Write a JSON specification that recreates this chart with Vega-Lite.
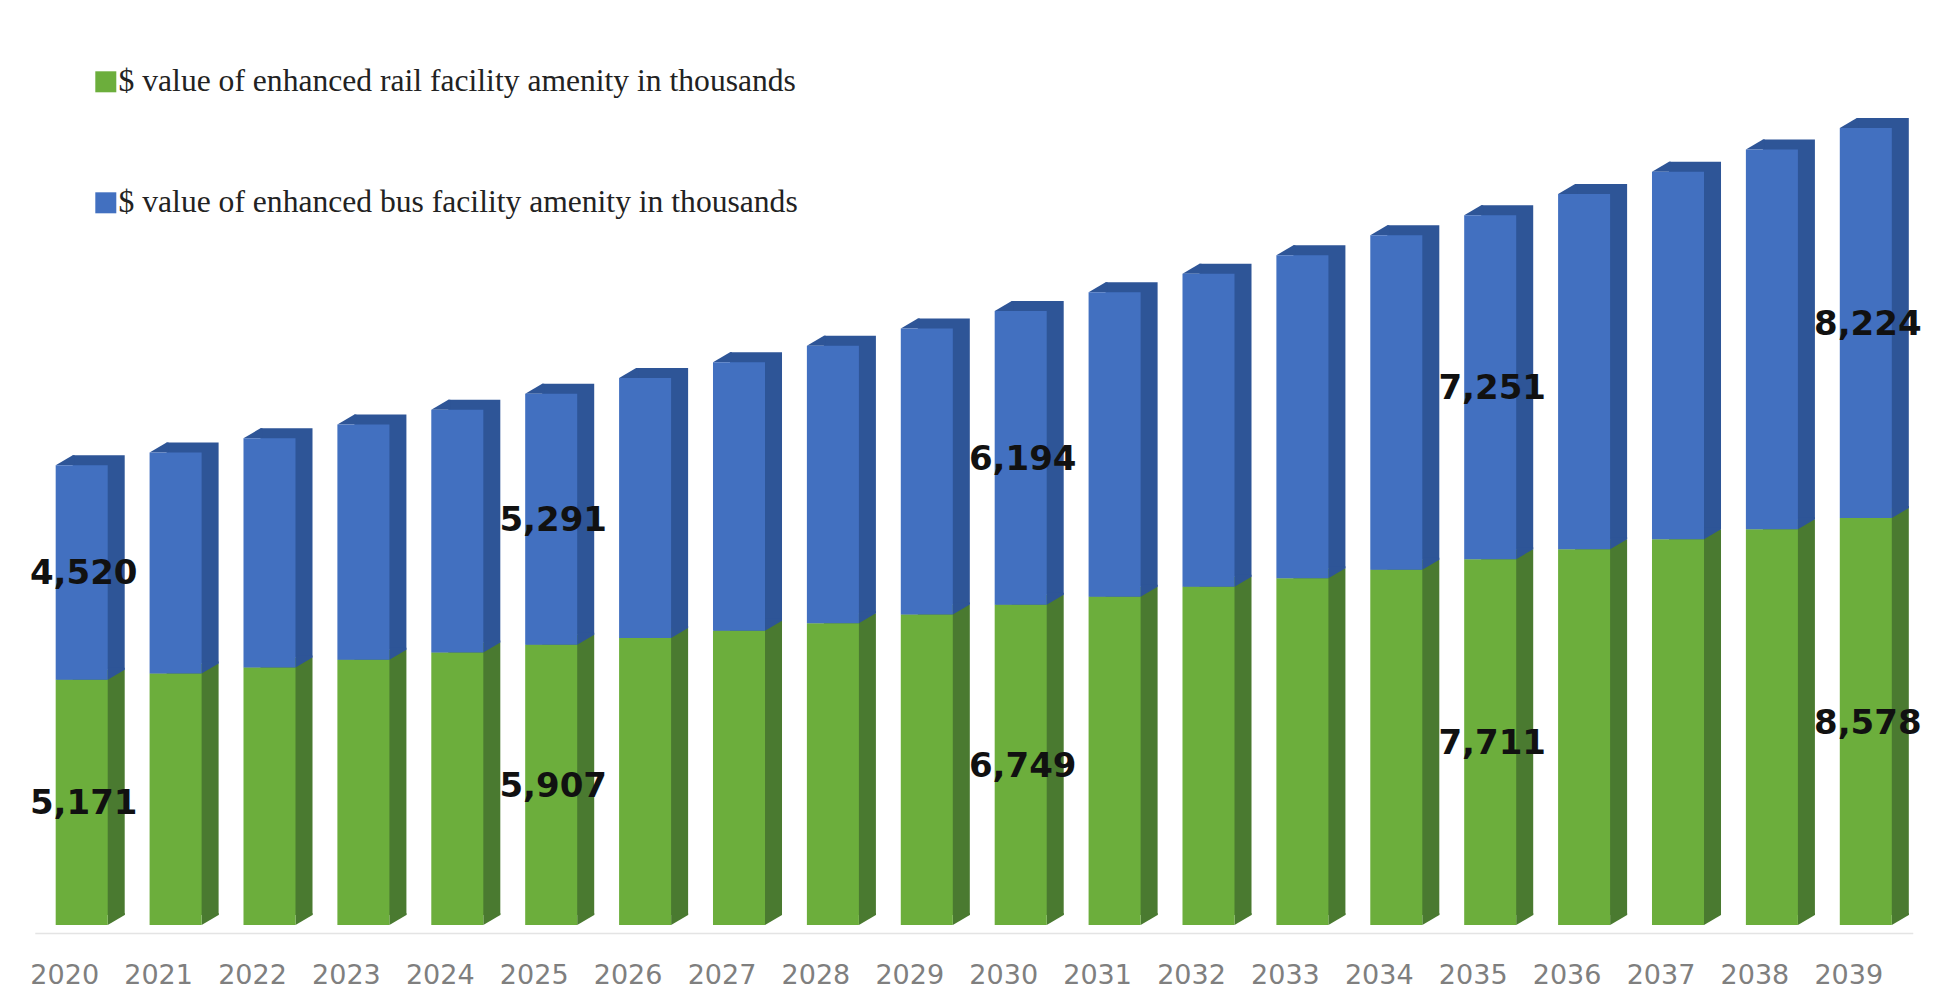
{
"$schema":"https://vega.github.io/schema/vega-lite/v6.json",
"autosize":"none","width":1941,"height":933,
"padding":{"left":0,"right":0,"top":0,"bottom":61},
"background":"white",
"config":{"view":{"stroke":null}},
"datasets":{"rows":[
{"year":2020,"order":1,"series":"rail","value":5171},{"year":2020,"order":2,"series":"bus","value":4520},
{"year":2021,"order":1,"series":"rail","value":5300},{"year":2021,"order":2,"series":"bus","value":4660},
{"year":2022,"order":1,"series":"rail","value":5430},{"year":2022,"order":2,"series":"bus","value":4830},
{"year":2023,"order":1,"series":"rail","value":5590},{"year":2023,"order":2,"series":"bus","value":4960},
{"year":2024,"order":1,"series":"rail","value":5745},{"year":2024,"order":2,"series":"bus","value":5115},
{"year":2025,"order":1,"series":"rail","value":5907},{"year":2025,"order":2,"series":"bus","value":5291},
{"year":2026,"order":1,"series":"rail","value":6050},{"year":2026,"order":2,"series":"bus","value":5480},
{"year":2027,"order":1,"series":"rail","value":6205},{"year":2027,"order":2,"series":"bus","value":5660},
{"year":2028,"order":1,"series":"rail","value":6360},{"year":2028,"order":2,"series":"bus","value":5850},
{"year":2029,"order":1,"series":"rail","value":6545},{"year":2029,"order":2,"series":"bus","value":6030},
{"year":2030,"order":1,"series":"rail","value":6749},{"year":2030,"order":2,"series":"bus","value":6194},
{"year":2031,"order":1,"series":"rail","value":6920},{"year":2031,"order":2,"series":"bus","value":6420},
{"year":2032,"order":1,"series":"rail","value":7130},{"year":2032,"order":2,"series":"bus","value":6600},
{"year":2033,"order":1,"series":"rail","value":7310},{"year":2033,"order":2,"series":"bus","value":6810},
{"year":2034,"order":1,"series":"rail","value":7490},{"year":2034,"order":2,"series":"bus","value":7050},
{"year":2035,"order":1,"series":"rail","value":7711},{"year":2035,"order":2,"series":"bus","value":7251},
{"year":2036,"order":1,"series":"rail","value":7920},{"year":2036,"order":2,"series":"bus","value":7490},
{"year":2037,"order":1,"series":"rail","value":8130},{"year":2037,"order":2,"series":"bus","value":7750},
{"year":2038,"order":1,"series":"rail","value":8340},{"year":2038,"order":2,"series":"bus","value":8010},
{"year":2039,"order":1,"series":"rail","value":8578},{"year":2039,"order":2,"series":"bus","value":8224}
]},
"data":{"name":"rows"},
"transform":[{"stack":"value","groupby":["year"],"sort":[{"field":"order","order":"ascending"}],"as":["y0","y1"]}],
"resolve":{"scale":{"color":"independent"}},
"encoding":{
"x":{"field":"year","type":"ordinal","title":null,
"scale":{"range":[34.75,1912.75],"paddingInner":0.446,"paddingOuter":0.223},
"axis":{"title":null,"labelAngle":0,"labelFontSize":27,"labelColor":"#7f7f7f","labelFont":"DejaVu Sans","labelPadding":29,"labelOffset":-17,"ticks":false,"domainColor":"#e4e4e4","domainWidth":1.5,"grid":false}}
},
"layer":[
{"mark":{"type":"bar","xOffset":17,"x2Offset":17,"yOffset":-10,"y2Offset":-10},
"encoding":{"y":{"field":"y0","type":"quantitative","scale":{"domain":[-169,19499],"nice":false,"zero":false},"axis":null},"y2":{"field":"y1"},
"color":{"field":"series","type":"nominal","scale":{"domain":["rail","bus"],"range":["#4a7a30","#2e5597"]},"legend":null}}},
{"mark":{"type":"point","filled":true,"opacity":1,"size":4,"strokeWidth":0,"shape":"M-26 0 L-9 -10 L-7 -10 L-7 0 Z"},
"encoding":{"y":{"field":"y1","type":"quantitative"},
"color":{"field":"series","type":"nominal","scale":{"domain":["rail","bus"],"range":["#4a7a30","#2e5597"]},"legend":null}}},
{"mark":{"type":"point","filled":true,"opacity":1,"size":4,"strokeWidth":0,"shape":"M26 0 L43 -10 L43 -12 L26 -12 Z"},
"encoding":{"y":{"field":"y0","type":"quantitative"},
"color":{"field":"series","type":"nominal","scale":{"domain":["rail","bus"],"range":["#4a7a30","#2e5597"]},"legend":null}}},
{"mark":{"type":"bar"},
"encoding":{"y":{"field":"y0","type":"quantitative"},"y2":{"field":"y1"},
"color":{"field":"series","type":"nominal",
"scale":{"domain":["rail","bus"],"range":["#6cae3c","#4270c0"]},
"legend":{"orient":"none","legendX":90,"legendY":66,"title":null,"padding":0,"symbolType":"square","symbolSize":441,"symbolStrokeWidth":0,"symbolOpacity":1,"labelFont":"Liberation Serif","labelFontSize":31.6,"labelColor":"#222222","labelLimit":900,"labelOffset":-3,"rowPadding":88,
"labelExpr":"datum.label == 'rail' ? '$ value of enhanced rail facility amenity in thousands' : '$ value of enhanced bus facility amenity in thousands'"}}}},
{"transform":[{"filter":{"field":"year","oneOf":[2020,2025,2030,2035,2039]}},{"fold":["y0","y1"],"as":["end","pos"]}],
"mark":{"type":"text","font":"DejaVu Sans","fontWeight":"bold","fontSize":34,"color":"#111111","dx":2,"dy":2,"baseline":"middle"},
"encoding":{"y":{"aggregate":"mean","field":"pos","type":"quantitative"},
"text":{"field":"value","type":"quantitative","format":","}}}
]
}
